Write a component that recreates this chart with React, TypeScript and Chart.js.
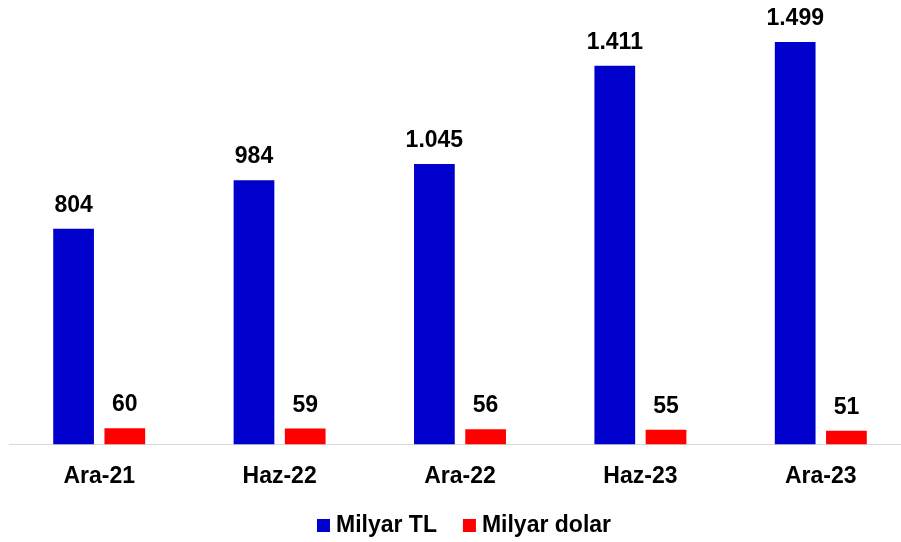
import React, { useEffect, useRef } from "react";
import { Chart, registerables } from "chart.js";

Chart.register(...registerables);

const categories = ["Ara-21", "Haz-22", "Ara-22", "Haz-23", "Ara-23"];
const milyarTL = [804, 984, 1045, 1411, 1499];
const milyarDolar = [60, 59, 56, 55, 51];
const seriesNames = ["Milyar TL", "Milyar dolar"];
const seriesColors = ["#0000CC", "#FF0000"];

const FONT = "'Liberation Sans', Arial, sans-serif";
const FS = 23;

function fmt(v: number): string {
  const s = String(Math.round(v));
  return s.replace(/\B(?=(\d{3})+(?!\d))/g, ".");
}

const labelPlugin = {
  id: "valueLabels",
  afterDatasetsDraw(chart: any) {
    const ctx = chart.ctx;
    ctx.save();
    ctx.font = `bold ${FS}px ${FONT}`;
    ctx.fillStyle = "#000";
    ctx.textAlign = "center";
    ctx.textBaseline = "alphabetic";
    chart.data.datasets.forEach((ds: any, i: number) => {
      const meta = chart.getDatasetMeta(i);
      meta.data.forEach((bar: any, j: number) => {
        ctx.fillText(fmt(ds.data[j]), bar.x, bar.y - 17);
      });
    });
    ctx.restore();
  },
};

const legendPlugin = {
  id: "customLegend",
  afterDraw(chart: any) {
    const ctx = chart.ctx;
    ctx.save();
    ctx.font = `bold ${FS}px ${FONT}`;
    const box = 13;
    const gapText = 6;
    const gapItem = 26;
    const widths = chart.data.datasets.map((d: any) => ctx.measureText(d.label).width);
    let total = 0;
    widths.forEach((w: number, i: number) => {
      total += box + gapText + w + (i > 0 ? gapItem : 0);
    });
    const center = (chart.chartArea.left + chart.chartArea.right) / 2 + 4;
    let x = center - total / 2;
    const yBox = 519;
    chart.data.datasets.forEach((d: any, i: number) => {
      ctx.fillStyle = d.backgroundColor;
      ctx.fillRect(x, yBox, box, box);
      x += box + gapText;
      ctx.fillStyle = "#000";
      ctx.textAlign = "left";
      ctx.textBaseline = "alphabetic";
      ctx.fillText(d.label, x, 532);
      x += widths[i] + gapItem;
    });
    ctx.restore();
  },
};

export default function App() {
  const ref = useRef<HTMLCanvasElement>(null);
  useEffect(() => {
    if (!ref.current) return;
    const chart = new Chart(ref.current, {
      type: "bar",
      data: {
        labels: categories,
        datasets: [
          {
            label: seriesNames[0],
            data: milyarTL,
            backgroundColor: seriesColors[0],
            categoryPercentage: 0.568,
            barPercentage: 0.795,
          },
          {
            label: seriesNames[1],
            data: milyarDolar,
            backgroundColor: seriesColors[1],
            categoryPercentage: 0.568,
            barPercentage: 0.795,
          },
        ],
      },
      options: {
        responsive: false,
        animation: false,
        devicePixelRatio: 1,
        layout: { padding: { left: 9, right: 1, top: 15, bottom: 34 } },
        plugins: {
          legend: { display: false },
          tooltip: { enabled: false },
        },
        scales: {
          x: {
            grid: { display: false, drawTicks: false },
            border: { display: true, color: "#d9d9d9", width: 1 },
            ticks: {
              color: "#000",
              font: { family: FONT, size: FS, weight: "bold" },
              padding: 18,
              maxRotation: 0,
            },
          },
          y: {
            display: false,
            min: 0,
            max: 1600,
          },
        },
      },
      plugins: [labelPlugin, legendPlugin],
    });
    return () => chart.destroy();
  }, []);
  return (
    <div
      style={{
        position: "absolute",
        left: 0,
        top: 0,
        width: 901,
        height: 542,
        overflow: "hidden",
        background: "#fff",
      }}
    >
      <canvas ref={ref} width={912} height={542} style={{ display: "block" }} />
    </div>
  );
}
